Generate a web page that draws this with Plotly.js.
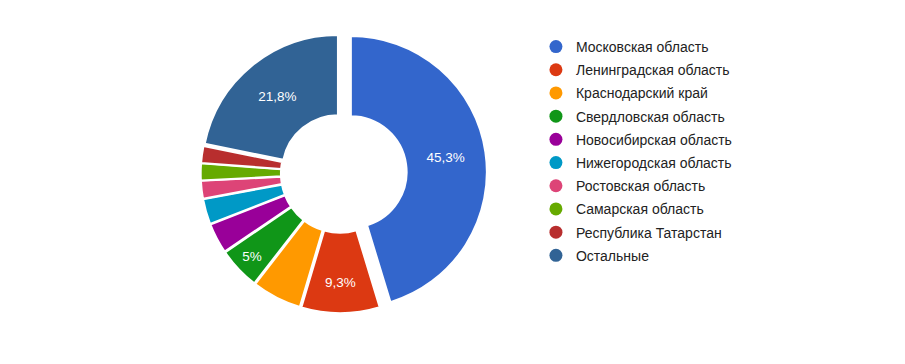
<!DOCTYPE html>
<html><head><meta charset="utf-8">
<script src="https://cdn.plot.ly/plotly-3.0.1.min.js"></script>
<style>html,body{margin:0;padding:0;background:#fff;}#chart{width:905px;height:364px;}</style>
</head><body><div id="chart"></div>
<script>
const regions = ["Московская область","Ленинградская область","Краснодарский край","Свердловская область","Новосибирская область","Нижегородская область","Ростовская область","Самарская область","Республика Татарстан","Остальные"];
const shares = [45.3, 9.3, 5.9, 5.0, 3.6, 3.0, 2.1, 2.0, 2.0, 21.8];
const sliceLabels = ["45,3%","9,3%","","5%","","","","","","21,8%"];
const colors = ["#3366cc","#dc3912","#ff9900","#109618","#990099","#0099c6","#dd4477","#66aa00","#b82e2e","#316395"];
const pulls = [0.08,0.025,0.025,0.025,0.025,0.025,0.025,0.025,0.025,0.025];

const traces = [{
  type:'pie', values:shares, labels:regions, text:sliceLabels,
  textinfo:'text', textposition:'inside', insidetextorientation:'horizontal',
  textfont:{family:'Liberation Sans, Arial, sans-serif', size:13.5, color:'#ffffff'},
  marker:{colors:colors, line:{color:'#ffffff', width:2}},
  hole:0.41, pull:pulls, sort:false, direction:'clockwise', rotation:0,
  domain:{x:[0.2135,0.5381], y:[0.1195,0.9266]}, showlegend:false, hoverinfo:'label+percent'
}];
regions.forEach((r,i)=>{
  traces.push({type:'scatter', mode:'markers', x:[null], y:[null], name:r, legendgroup:'g'+i,
    marker:{symbol:'circle', size:13, color:colors[i]}, showlegend:true, hoverinfo:'skip'});
});

const layout = {
  width:905, height:364, margin:{l:0,r:0,t:0,b:0},
  paper_bgcolor:'#ffffff', plot_bgcolor:'rgba(0,0,0,0)',
  xaxis:{visible:false, domain:[0.99,1]}, yaxis:{visible:false, domain:[0.99,1]},
  showlegend:true,
  legend:{x:0.5922, y:0.915, xanchor:'left', yanchor:'top', bgcolor:'rgba(0,0,0,0)',
    font:{family:'Liberation Sans, Arial, sans-serif', size:14, color:'#222222'},
    tracegroupgap:2, itemclick:false}
};
Plotly.newPlot('chart', traces, layout, {staticPlot:true, displayModeBar:false});
</script></body></html>
